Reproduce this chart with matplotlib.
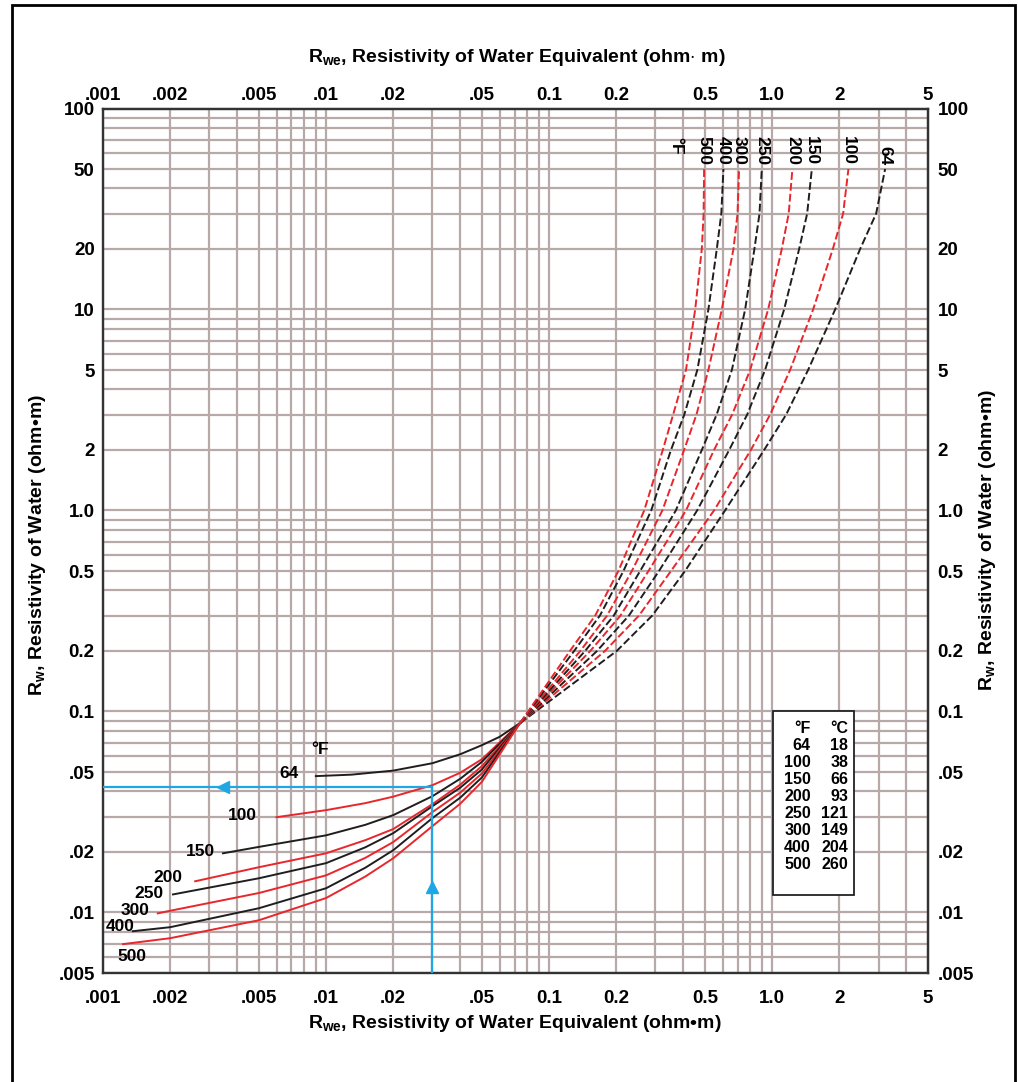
import matplotlib
matplotlib.use("Agg")
import matplotlib.pyplot as plt
from matplotlib.ticker import LogLocator, NullFormatter, FixedLocator, FixedFormatter
from matplotlib.patches import Rectangle

plt.rcParams['font.family'] = ['Liberation Sans', 'DejaVu Sans']
plt.rcParams['font.weight'] = 'bold'
plt.rcParams['mathtext.fontset'] = 'custom'
plt.rcParams['mathtext.rm'] = 'Liberation Sans:bold'
plt.rcParams['mathtext.bf'] = 'Liberation Sans:bold'
plt.rcParams['mathtext.it'] = 'Liberation Sans:bold'

# axis ticks
x_ticks = [0.001, 0.002, 0.005, 0.01, 0.02, 0.05, 0.1, 0.2, 0.5, 1.0, 2, 5]
x_labels = ['.001', '.002', '.005', '.01', '.02', '.05', '0.1', '0.2', '0.5', '1.0', '2', '5']
y_ticks = [0.005, 0.01, 0.02, 0.05, 0.1, 0.2, 0.5, 1.0, 2, 5, 10, 20, 50, 100]
y_labels = ['.005', '.01', '.02', '.05', '0.1', '0.2', '0.5', '1.0', '2', '5', '10', '20', '50', '100']

# temperatures (legend table)
temp_f = [64, 100, 150, 200, 250, 300, 400, 500]
temp_c = [18, 38, 66, 93, 121, 149, 204, 260]

# solid branch: Rwe -> Rw for each temperature
solid_rwe_64 = [0.009, 0.013, 0.02, 0.03, 0.04, 0.05, 0.06, 0.074]
solid_rw_64 = [0.0477, 0.0485, 0.0508, 0.0553, 0.0613, 0.0680, 0.0748, 0.0875]
solid_rwe_100 = [0.006, 0.01, 0.015, 0.02, 0.03, 0.04, 0.05, 0.074]
solid_rw_100 = [0.0298, 0.0323, 0.0350, 0.0377, 0.043, 0.0496, 0.0579, 0.0875]
solid_rwe_150 = [0.00345, 0.005, 0.01, 0.015, 0.02, 0.03, 0.04, 0.05, 0.074]
solid_rw_150 = [0.0197, 0.0212, 0.0242, 0.0273, 0.0305, 0.0379, 0.0463, 0.0562, 0.0875]
solid_rwe_200 = [0.00259, 0.005, 0.01, 0.015, 0.02, 0.03, 0.04, 0.05, 0.074]
solid_rw_200 = [0.0143, 0.0168, 0.0197, 0.0229, 0.0260, 0.0346, 0.0433, 0.0535, 0.0875]
solid_rwe_250 = [0.00206, 0.005, 0.01, 0.015, 0.02, 0.03, 0.04, 0.05, 0.074]
solid_rw_250 = [0.0123, 0.0148, 0.0176, 0.0211, 0.0248, 0.0338, 0.0418, 0.0515, 0.0875]
solid_rwe_300 = [0.00176, 0.002, 0.005, 0.01, 0.015, 0.02, 0.03, 0.04, 0.05, 0.074]
solid_rw_300 = [0.0099, 0.0102, 0.0125, 0.0153, 0.0187, 0.0224, 0.0316, 0.0395, 0.0492, 0.0875]
solid_rwe_400 = [0.00136, 0.002, 0.005, 0.01, 0.015, 0.02, 0.03, 0.04, 0.05, 0.074]
solid_rw_400 = [0.00807, 0.00845, 0.0105, 0.0132, 0.0167, 0.0204, 0.0295, 0.0373, 0.0470, 0.0875]
solid_rwe_500 = [0.00123, 0.002, 0.005, 0.01, 0.015, 0.02, 0.03, 0.04, 0.05, 0.074]
solid_rw_500 = [0.00696, 0.00745, 0.00915, 0.0118, 0.0151, 0.0186, 0.0269, 0.0348, 0.0447, 0.0875]

# dashed branch: Rw levels shared, Rwe per temperature
dash_rw = [0.0875, 0.2, 0.3, 0.5, 1.0, 2, 3, 5, 10, 20, 30, 50]
dash_rwe_64 = [0.0741, 0.201, 0.290, 0.407, 0.615, 0.921, 1.156, 1.450, 1.917, 2.481, 2.927, 3.212]
dash_rwe_100 = [0.0741, 0.178, 0.253, 0.352, 0.549, 0.803, 0.980, 1.204, 1.527, 1.872, 2.082, 2.199]
dash_rwe_150 = [0.0741, 0.164, 0.228, 0.311, 0.461, 0.642, 0.773, 0.930, 1.132, 1.322, 1.436, 1.507]
dash_rwe_200 = [0.0741, 0.153, 0.209, 0.279, 0.411, 0.549, 0.662, 0.797, 0.960, 1.105, 1.187, 1.233]
dash_rwe_250 = [0.0741, 0.145, 0.195, 0.256, 0.370, 0.484, 0.564, 0.660, 0.757, 0.833, 0.878, 0.899]
dash_rwe_300 = [0.0741, 0.138, 0.182, 0.235, 0.322, 0.403, 0.458, 0.518, 0.595, 0.671, 0.700, 0.711]
dash_rwe_400 = [0.0741, 0.1295, 0.169, 0.2155, 0.287, 0.352, 0.404, 0.462, 0.518, 0.565, 0.592, 0.605]
dash_rwe_500 = [0.0741, 0.124, 0.161, 0.2045, 0.267, 0.3235, 0.360, 0.411, 0.452, 0.484, 0.493, 0.4956]

# worked example (blue)
ex_rwe = 0.03
ex_rw = 0.042

solid_x = [solid_rwe_64, solid_rwe_100, solid_rwe_150, solid_rwe_200,
           solid_rwe_250, solid_rwe_300, solid_rwe_400, solid_rwe_500]
solid_y = [solid_rw_64, solid_rw_100, solid_rw_150, solid_rw_200,
           solid_rw_250, solid_rw_300, solid_rw_400, solid_rw_500]
dash_x = [dash_rwe_64, dash_rwe_100, dash_rwe_150, dash_rwe_200,
          dash_rwe_250, dash_rwe_300, dash_rwe_400, dash_rwe_500]

RED = '#e8262b'
BLACK = '#1e1e1e'
BLUE = '#1ea7e4'
GRID = '#b8a9a9'
colors = [BLACK, RED, BLACK, RED, BLACK, RED, BLACK, RED]

fig = plt.figure(figsize=(10.18, 10.82), dpi=100)
ax = fig.add_axes([103 / 1018, 1 - 973 / 1082, 825 / 1018, 864.5 / 1082])
ax.set_xscale('log')
ax.set_yscale('log')
ax.set_xlim(0.001, 5)
ax.set_ylim(0.005, 100)

ax.xaxis.set_minor_locator(LogLocator(base=10, subs=range(2, 10), numticks=50))
ax.yaxis.set_minor_locator(LogLocator(base=10, subs=range(2, 10), numticks=50))
ax.xaxis.set_minor_formatter(NullFormatter())
ax.yaxis.set_minor_formatter(NullFormatter())
ax.grid(True, which='both', color=GRID, lw=1.6)
ax.set_axisbelow(True)

ax.xaxis.set_major_locator(FixedLocator(x_ticks))
ax.xaxis.set_major_formatter(FixedFormatter(x_labels))
ax.yaxis.set_major_locator(FixedLocator(y_ticks))
ax.yaxis.set_major_formatter(FixedFormatter(y_labels))
ax.tick_params(which='both', length=0, labelsize=13.5)
ax.tick_params(axis='x', pad=12)
ax.tick_params(axis='y', pad=6)
for s in ax.spines.values():
    s.set_linewidth(1.7)
    s.set_color('#333333')

secx = ax.secondary_xaxis('top')
secx.xaxis.set_major_locator(FixedLocator(x_ticks))
secx.xaxis.set_major_formatter(FixedFormatter(x_labels))
secx.xaxis.set_minor_locator(FixedLocator([]))
secx.tick_params(length=0, labelsize=13.5, pad=3)
secy = ax.secondary_yaxis('right')
secy.yaxis.set_major_locator(FixedLocator(y_ticks))
secy.yaxis.set_major_formatter(FixedFormatter(y_labels))
secy.yaxis.set_minor_locator(FixedLocator([]))
secy.tick_params(length=0, labelsize=13.5, pad=7)

# curves
for i in range(len(temp_f)):
    ax.plot(solid_x[i], solid_y[i], color=colors[i], lw=1.4, zorder=3,
            solid_joinstyle='round')
    ax.plot(dash_x[i], dash_rw, color=colors[i], lw=1.4, dashes=(4, 1.6), zorder=3)

# labels at start of solid curves
low_off = [(-17, 3), (-20, 2), (-8, 2), (-13, 4), (-10, 1), (-8, 3), (2, 5), (23, -12)]
for i in range(len(temp_f)):
    dx, dy = low_off[i]
    ax.annotate(str(temp_f[i]), (solid_x[i][0], solid_y[i][0]), xytext=(dx, dy),
                textcoords='offset pixels', ha='right', va='center', fontsize=12.5)
ax.annotate('°F', (solid_x[0][0], solid_y[0][0]), xytext=(4, 27),
            textcoords='offset pixels', ha='center', va='center', fontsize=12.5)

# labels on top of dashed curves
for i in range(len(temp_f)):
    ax.annotate(str(temp_f[i]), (dash_x[i][-1], dash_rw[-1]), xytext=(0, 4),
                textcoords='offset pixels', ha='center', va='bottom',
                rotation=-90, fontsize=12.5)
ax.annotate('°F', (dash_x[-1][-1], dash_rw[-1]), xytext=(-28, 14),
            textcoords='offset pixels', ha='center', va='bottom',
            rotation=-90, fontsize=12.5)

# worked example
ax.plot([0.001, ex_rwe], [ex_rw, ex_rw], color=BLUE, lw=1.6, zorder=4)
ax.plot([ex_rwe, ex_rwe], [0.005, ex_rw], color=BLUE, lw=1.6, zorder=4)
ax.plot([0.00345], [ex_rw], marker='<', ms=9, color=BLUE, zorder=5)
ax.plot([ex_rwe], [0.0134], marker='^', ms=9, color=BLUE, zorder=5)

# temperature table
tx0, ty0 = (773 - 103) / 825, (973 - 895) / 864.5
ax.add_patch(Rectangle((tx0, ty0), 81 / 825, 184 / 864.5, transform=ax.transAxes,
                       facecolor='white', edgecolor='#222222', lw=1.3, zorder=6))
ax.text(0.858, 0.2834, '°F', transform=ax.transAxes, ha='right', va='center',
        fontsize=11.5, zorder=7)
ax.text(0.903, 0.2834, '°C', transform=ax.transAxes, ha='right', va='center',
        fontsize=11.5, zorder=7)
for i in range(len(temp_f)):
    yy = 0.2834 - (i + 1) * 0.0197
    ax.text(0.858, yy, str(temp_f[i]), transform=ax.transAxes, ha='right',
            va='center', fontsize=11.5, zorder=7)
    ax.text(0.903, yy, str(temp_c[i]), transform=ax.transAxes, ha='right',
            va='center', fontsize=11.5, zorder=7)

# axis titles
xt = r'R$_{\mathbf{we}}$, Resistivity of Water Equivalent (ohm$\cdot$ m)'
fig.text(517 / 1018, 1 - 57 / 1082, xt, ha='center', va='center', fontsize=14)
fig.text(515 / 1018, 1 - 1023 / 1082, r'R$_{\mathbf{we}}$, Resistivity of Water Equivalent (ohm•m)',
         ha='center', va='center', fontsize=14)
yt = r'R$_{\mathbf{w}}$, Resistivity of Water (ohm•m)'
fig.text(38 / 1018, 1 - 545 / 1082, yt, ha='center', va='center', rotation=90, fontsize=14)
fig.text(988 / 1018, 1 - 540 / 1082, yt, ha='center', va='center', rotation=90, fontsize=14)

# outer frame
fig.add_artist(Rectangle((12 / 1018, -0.01), 1003 / 1018, 1.01 - 5 / 1082,
                         transform=fig.transFigure, fill=False, lw=2, edgecolor='black'))

fig.savefig('out.png', dpi=100)
